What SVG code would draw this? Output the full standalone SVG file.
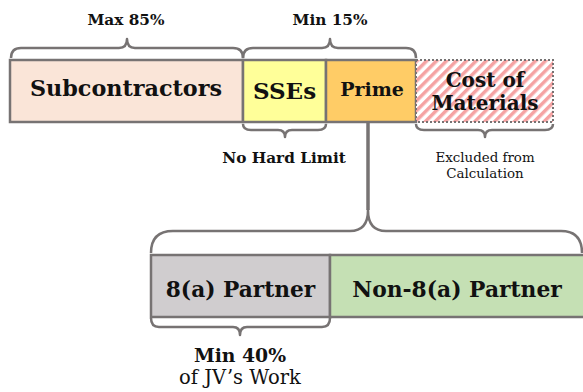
<svg xmlns="http://www.w3.org/2000/svg" width="583" height="392" viewBox="0 0 583 392">
  <style>
    .box { stroke: #777373; stroke-width: 2.5; }
    .brace { fill: none; stroke: #777373; stroke-width: 2.5; stroke-linejoin: round; }
    .stem { stroke: #777373; stroke-width: 3.5; fill: none; }
    text { font-family: "DejaVu Serif", "Liberation Serif", serif; fill: #111; text-anchor: middle; }
    .b { font-weight: bold; }
  </style>
  <defs>
    <pattern id="hatch" patternUnits="userSpaceOnUse" width="7" height="7" patternTransform="rotate(45)">
      <rect width="7" height="7" fill="#ffffff"/>
      <rect width="3.5" height="7" fill="#f5a3a3"/>
    </pattern>
  </defs>
  <rect width="583" height="392" fill="#ffffff"/>

  <!-- top bar -->
  <g id="subcontractors">
    <rect class="box" x="10" y="60" width="233" height="62" fill="#fae5d8"/>
    <text class="b" x="126" y="96" font-size="22.3">Subcontractors</text>
  </g>
  <g id="sses">
    <rect class="box" x="243" y="60" width="83" height="62" fill="#ffff99"/>
    <text class="b" x="284.5" y="99" font-size="23">SSEs</text>
  </g>
  <g id="prime">
    <rect class="box" x="326" y="60" width="90" height="62" fill="#ffcc66"/>
    <text class="b" x="372" y="96" font-size="19">Prime</text>
  </g>
  <g id="materials">
    <rect x="416" y="60" width="137" height="62" fill="url(#hatch)" stroke="#777373" stroke-width="2" stroke-dasharray="2 2"/>
    <text class="b" x="485" y="87" font-size="20">Cost of</text>
    <text class="b" x="485" y="110" font-size="20">Materials</text>
  </g>

  <!-- lower bar -->
  <g id="partner-8a">
    <rect class="box" x="151" y="255" width="179" height="62" fill="#d0cdcf"/>
    <text class="b" x="240.5" y="297" font-size="21.7">8(a) Partner</text>
  </g>
  <g id="partner-non-8a">
    <rect class="box" x="330" y="255" width="256" height="62" fill="#c5e0b4"/>
    <text class="b" x="457" y="297" font-size="21.8">Non-8(a) Partner</text>
  </g>

  <!-- braces and stem -->
  <g id="connectors">
    <path class="brace" d="M11,58 Q11,48 21,48 L119,48 Q127,48 127,39 Q127,48 135,48 L233,48 Q243,48 243,58"/>
    <path class="brace" d="M243,58 Q243,48 253,48 L322,48 Q330,48 330,39 Q330,48 338,48 L406,48 Q416,48 416,58"/>
    <path class="brace" d="M243,124 Q243,130 251,130 L278,130 Q285,130 285,137 Q285,130 292,130 L318,130 Q326,130 326,124"/>
    <path class="brace" d="M416,124 Q416,130 424,130 L478,130 Q485,130 485,137 Q485,130 492,130 L545,130 Q553,130 553,124"/>
    <path class="stem" d="M368,123 L368,210"/>
    <path class="brace" d="M151,253 Q151,231 173,231 L350,231 Q368,231 368,210 Q368,231 386,231 L561,231 Q582,231 582,253"/>
    <path class="brace" d="M151,318 Q151,327 159,327 L233,327 Q240,327 240,335 Q240,327 247,327 L322,327 Q330,327 330,318"/>
  </g>

  <!-- annotations -->
  <g id="labels">
    <text class="b" x="126" y="25" font-size="15.3">Max 85%</text>
    <text class="b" x="330" y="25" font-size="15.3">Min 15%</text>
    <text class="b" x="284" y="163" font-size="15.3">No Hard Limit</text>
    <text x="485" y="162" font-size="13.4">Excluded from</text>
    <text x="485" y="178" font-size="13.4">Calculation</text>
    <text class="b" x="240" y="362" font-size="18.8">Min 40%</text>
    <text x="240" y="384" font-size="19.5">of JV’s Work</text>
  </g>
</svg>
